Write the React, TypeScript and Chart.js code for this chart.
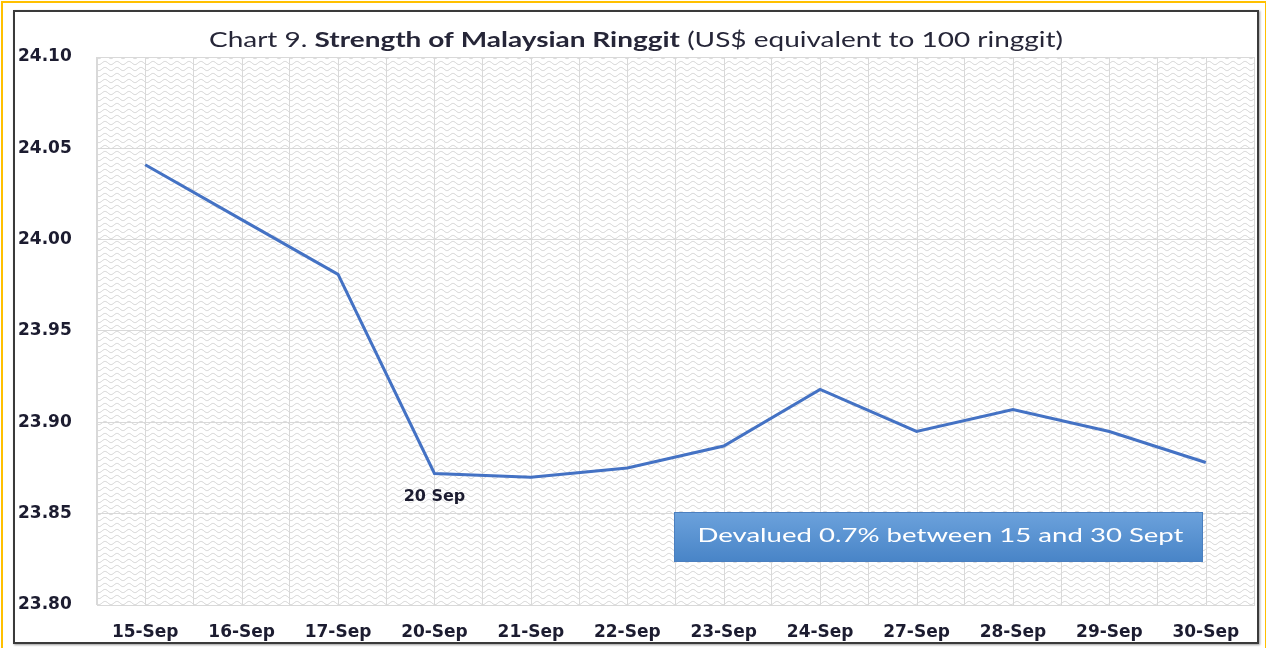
import React, { useEffect, useRef } from "react";
import { Chart, registerables } from "chart.js";

Chart.register(...registerables);

const categories = ["15-Sep", "16-Sep", "17-Sep", "20-Sep", "21-Sep", "22-Sep", "23-Sep", "24-Sep", "27-Sep", "28-Sep", "29-Sep", "30-Sep"];
const ringgitValues = [24.041, 24.011, 23.981, 23.872, 23.870, 23.875, 23.887, 23.918, 23.895, 23.907, 23.895, 23.878];
const yMin = 23.8;
const yMax = 24.1;
const yStep = 0.05;
const titleParts = [
  { text: "Chart 9. ", bold: false },
  { text: "Strength of Malaysian Ringgit", bold: true },
  { text: " (US$ equivalent to 100 ringgit)", bold: false },
];
const pointLabelIndex = 3;
const pointLabelText = "20 Sep";
const noteText = "Devalued 0.7% between 15 and 30 Sept";

const FONT = "'DejaVu Sans', sans-serif";
const TFONT = "Lato, 'Open Sans', sans-serif";
const TEXT = "#1c1c30";

function makePattern(ctx: CanvasRenderingContext2D) {
  const c = document.createElement("canvas");
  c.width = 12;
  c.height = 6;
  const p = c.getContext("2d")!;
  p.fillStyle = "#ffffff";
  p.fillRect(0, 0, 12, 6);
  p.strokeStyle = "#d2d2d2";
  p.lineWidth = 1;
  p.beginPath();
  for (let x = 0; x <= 12; x += 0.5) {
    const y = 3 + 1.6 * Math.sin((x / 12) * Math.PI * 2);
    if (x === 0) p.moveTo(x, y);
    else p.lineTo(x, y);
  }
  p.stroke();
  return ctx.createPattern(c, "repeat");
}

function drawStretched(ctx: CanvasRenderingContext2D, text: string, cx: number, cy: number, targetWidth: number) {
  const w = ctx.measureText(text).width;
  const sx = targetWidth / w;
  ctx.save();
  ctx.translate(cx, cy);
  ctx.scale(sx, 1);
  ctx.textAlign = "center";
  ctx.fillText(text, 0, 0);
  ctx.restore();
}

const decorPlugin = {
  id: "decor",
  beforeDraw(chart: any) {
    const { ctx, chartArea } = chart;
    ctx.save();
    ctx.fillStyle = "#ffffff";
    ctx.fillRect(0, 0, chart.width, chart.height);
    const pat = makePattern(ctx);
    if (pat) {
      ctx.fillStyle = pat;
      ctx.fillRect(chartArea.left, chartArea.top, chartArea.right - chartArea.left, chartArea.bottom - chartArea.top);
    }
    ctx.restore();
  },
  beforeDatasetsDraw(chart: any) {
    const { ctx, chartArea, scales } = chart;
    const xs = scales.x;
    ctx.save();
    ctx.strokeStyle = "#d9d9d9";
    ctx.lineWidth = 1;
    for (let i = 0; i < categories.length; i++) {
      const px = Math.round(xs.getPixelForValue(i)) + 0.5;
      ctx.beginPath();
      ctx.moveTo(px, chartArea.top);
      ctx.lineTo(px, chartArea.bottom);
      ctx.stroke();
    }
    ctx.restore();
  },
  afterDraw(chart: any) {
    const { ctx, scales } = chart;
    ctx.save();
    // title (mixed weights, fitted to width)
    const size = 21;
    const widths = titleParts.map((p) => {
      ctx.font = `${p.bold ? "bold " : ""}${size}px ${TFONT}`;
      return ctx.measureText(p.text).width;
    });
    const total = widths.reduce((a, b) => a + b, 0);
    const targetW = 854;
    const sx = targetW / total;
    ctx.save();
    ctx.translate(636 - targetW / 2, 47);
    ctx.scale(sx, 1);
    ctx.fillStyle = "#262638";
    ctx.textBaseline = "alphabetic";
    ctx.textAlign = "left";
    let x = 0;
    titleParts.forEach((p, i) => {
      ctx.font = `${p.bold ? "bold " : ""}${size}px ${TFONT}`;
      ctx.fillText(p.text, x, 0);
      x += widths[i];
    });
    ctx.restore();
    // point label
    const px = scales.x.getPixelForValue(pointLabelIndex);
    const py = scales.y.getPixelForValue(ringgitValues[pointLabelIndex]);
    ctx.font = `bold 16px ${FONT}`;
    ctx.fillStyle = TEXT;
    ctx.textAlign = "center";
    ctx.textBaseline = "middle";
    ctx.fillText(pointLabelText, px, py + 23);
    // note box
    const bx = 674, by = 512, bw = 529, bh = 50;
    const g = ctx.createLinearGradient(0, by, 0, by + bh);
    g.addColorStop(0, "#6ca2dc");
    g.addColorStop(1, "#4884c7");
    ctx.fillStyle = g;
    ctx.fillRect(bx, by, bw, bh);
    ctx.strokeStyle = "#4a7fc0";
    ctx.lineWidth = 1;
    ctx.strokeRect(bx + 0.5, by + 0.5, bw - 1, bh - 1);
    ctx.font = `20px ${TFONT}`;
    ctx.fillStyle = "#ffffff";
    ctx.textBaseline = "alphabetic";
    drawStretched(ctx, noteText, bx + bw / 2 + 2, 542, 486);
    ctx.restore();
  },
};

export default function App() {
  const ref = useRef<HTMLCanvasElement>(null);
  useEffect(() => {
    if (!ref.current) return;
    const chart = new Chart(ref.current, {
      type: "line",
      data: {
        labels: categories,
        datasets: [
          {
            data: ringgitValues,
            borderColor: "#4472c4",
            borderWidth: 3,
            pointRadius: 0,
            tension: 0,
            fill: false,
          },
        ],
      },
      options: {
        animation: false,
        responsive: true,
        maintainAspectRatio: false,
        layout: { padding: { left: 18, top: 57, right: 12, bottom: 0 } },
        plugins: { legend: { display: false }, title: { display: false }, tooltip: { enabled: false } },
        scales: {
          x: {
            offset: true,
            grid: { color: "#d9d9d9", drawTicks: false, offset: true },
            border: { color: "#d9d9d9" },
            ticks: { font: { family: FONT, size: 17, weight: "bold" }, color: TEXT, padding: 17, maxRotation: 0, autoSkip: false },
            afterFit: (s: any) => { s.height = 43; },
          },
          y: {
            min: yMin,
            max: yMax,
            grid: { color: "#d9d9d9", drawTicks: false },
            border: { color: "#d9d9d9" },
            ticks: {
              stepSize: yStep,
              crossAlign: "far",
              font: { family: FONT, size: 17, weight: "bold" },
              color: TEXT,
              callback: (v: any) => Number(v).toFixed(2),
            },
            afterFit: (s: any) => { s.width = 79; },
          },
        },
      },
      plugins: [decorPlugin],
    });
    return () => chart.destroy();
  }, []);
  return (
    <div style={{ position: "fixed", left: 0, top: 0, width: 1266, height: 648, background: "#fff", overflow: "hidden" }}>
      <canvas ref={ref} />
      <div style={{ position: "absolute", left: 1, top: 1, width: 1262, height: 652, border: "2px solid #ffc000", pointerEvents: "none" }} />
      <div style={{ position: "absolute", left: 13, top: 10, width: 1242, height: 630, border: "2px solid #3a3a3a", boxShadow: "1px 1px 2px rgba(0,0,0,0.4)", pointerEvents: "none" }} />
    </div>
  );
}
